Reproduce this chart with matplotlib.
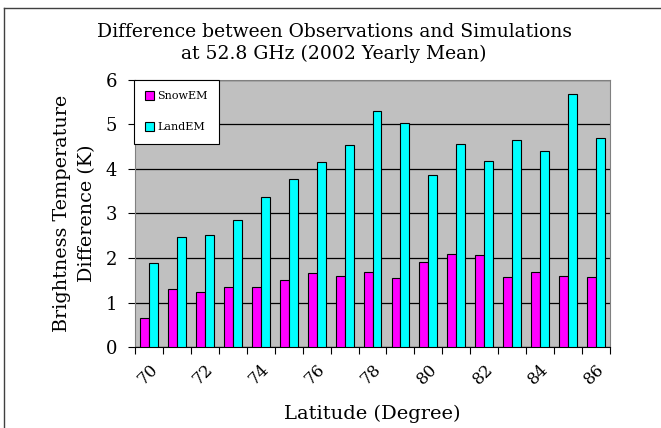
import numpy as np
import matplotlib.pyplot as plt
from matplotlib.lines import Line2D

latitude = list(range(70, 87))
snowem = [0.66, 1.30, 1.24, 1.34, 1.34, 1.51, 1.67, 1.60, 1.69, 1.55,
          1.91, 2.09, 2.06, 1.58, 1.69, 1.60, 1.58]
landem = [1.88, 2.47, 2.52, 2.86, 3.37, 3.78, 4.15, 4.54, 5.31, 5.03,
          3.87, 4.56, 4.17, 4.66, 4.41, 5.69, 4.69]
tick_labels = [str(v) for v in range(70, 87, 2)]

plt.rcParams['font.family'] = 'DejaVu Serif'

fig = plt.figure(figsize=(6.61, 4.28), dpi=100)
ax = fig.add_axes([135 / 661, 1 - 347 / 428, 475 / 661, 267 / 428])

x = np.arange(len(latitude))
w = 0.32
ax.bar(x - w / 2, snowem, w, color='#ff00ff', edgecolor='black', linewidth=0.8, label='SnowEM', zorder=3)
ax.bar(x + w / 2, landem, w, color='#00ffff', edgecolor='black', linewidth=0.8, label='LandEM', zorder=3)

ax.set_facecolor('#c0c0c0')
ax.set_xlim(-0.5, len(latitude) - 0.5)
ax.set_ylim(0, 6)
ax.set_yticks(range(0, 7))
ax.yaxis.grid(True, color='black', linewidth=0.9, zorder=1)
ax.set_axisbelow(True)

ax.set_xticks(np.arange(-0.5, len(latitude)), minor=False)
ax.set_xticklabels([])
ax.set_xticks(x[::2], minor=True)
ax.set_xticklabels(tick_labels, minor=True, rotation=45, ha='right',
                   rotation_mode='anchor', fontsize=12)
ax.tick_params(axis='x', which='minor', length=0, pad=10)
ax.tick_params(axis='x', which='major', length=5, direction='out', color='black')
ax.tick_params(axis='y', length=5, direction='out', labelsize=13, pad=8)

for s in ['top', 'right']:
    ax.spines[s].set_color('#808080')
ax.spines['left'].set_color('#808080')
ax.spines['bottom'].set_color('black')

ax.set_xlabel('Latitude (Degree)', fontsize=14, labelpad=12)
ax.set_ylabel('Brightness Temperature\nDifference (K)', fontsize=13.8, labelpad=7, linespacing=1.5)

fig.text(334 / 661, 1 - 43 / 428, 'Difference between Observations and Simulations\nat 52.8 GHz (2002 Yearly Mean)',
         ha='center', va='center', fontsize=13.5, linespacing=1.2)

leg = ax.legend(loc='upper left', bbox_to_anchor=(-0.002, 1.0), fontsize=8,
                frameon=True, fancybox=False, edgecolor='black', facecolor='white',
                framealpha=1, handlelength=0.8, handleheight=0.8, labelspacing=1.9,
                borderpad=1.0, handletextpad=0.3, borderaxespad=0)
leg.get_frame().set_linewidth(0.8)

fig.add_artist(Line2D([4 / 661, 1], [1 - 8 / 428, 1 - 8 / 428], color='#404040', linewidth=1, transform=fig.transFigure))
fig.add_artist(Line2D([4 / 661, 4 / 661], [0, 1 - 8 / 428], color='#404040', linewidth=1, transform=fig.transFigure))

fig.savefig('out.png', dpi=100)
